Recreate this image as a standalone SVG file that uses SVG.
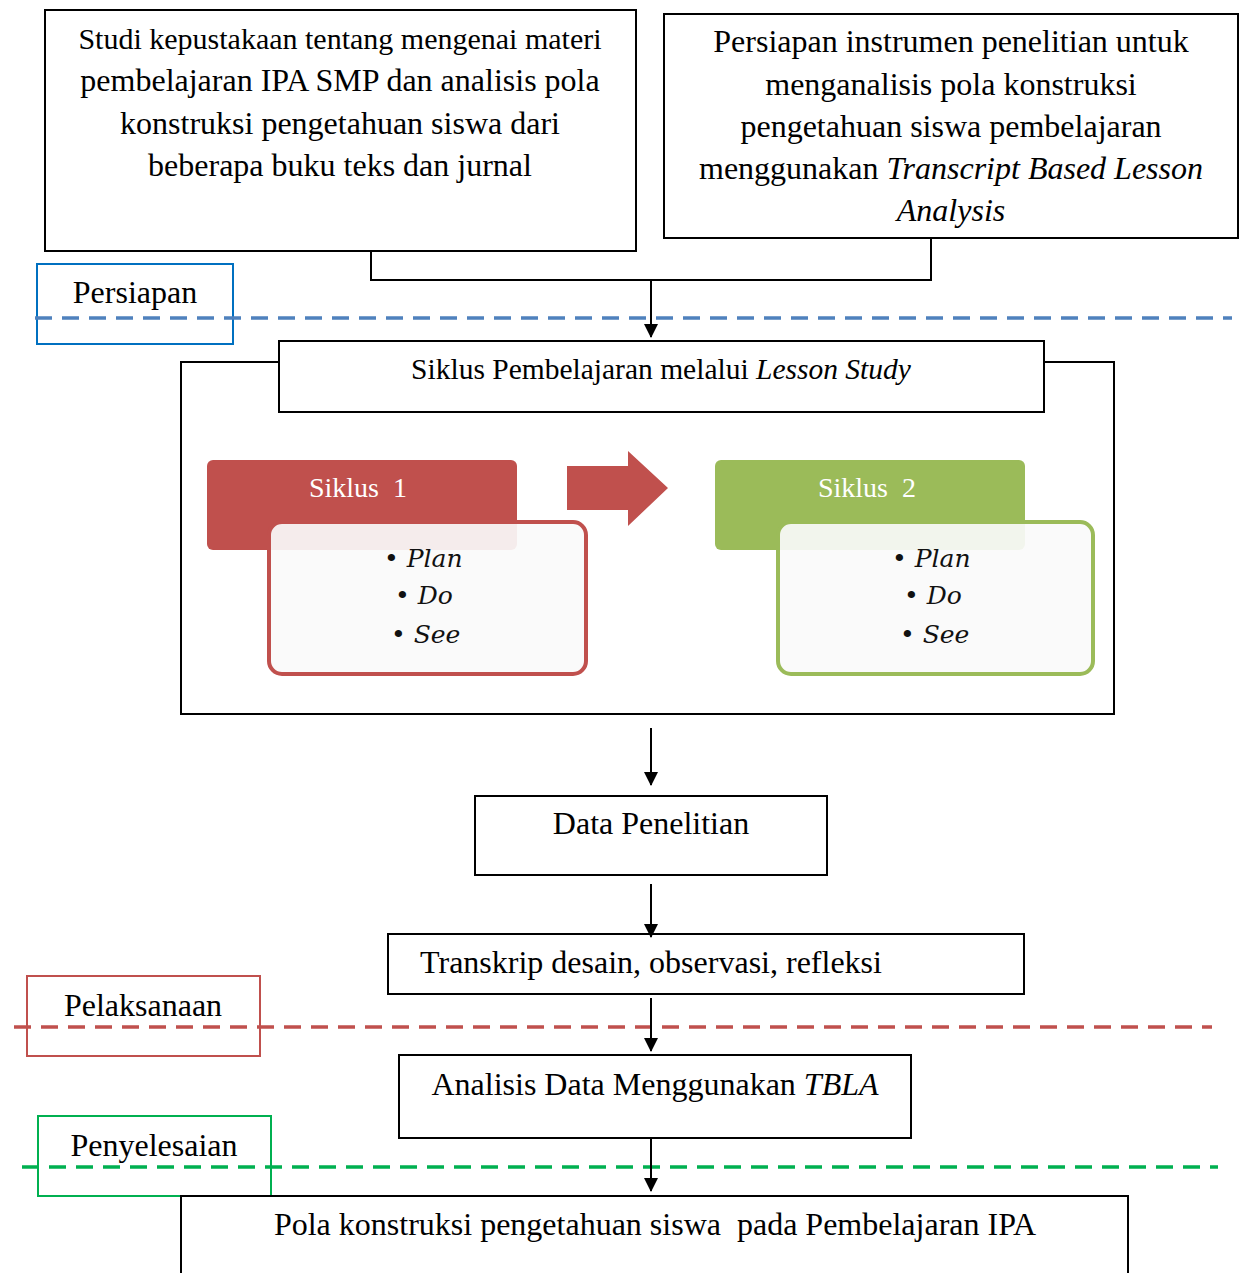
<svg xmlns="http://www.w3.org/2000/svg" width="1240" height="1273" viewBox="0 0 1240 1273">
<style>
.box{fill:#fff;stroke:#000;stroke-width:2}
.t{font-family:"Liberation Serif","Times New Roman",serif;font-size:32px;fill:#000;text-anchor:middle}
.c{fill:none;stroke:#000;stroke-width:2}
.hd{font-family:"Liberation Serif",serif;font-size:28px;fill:#fff;text-anchor:middle}
.bl{font-family:"DejaVu Serif",serif;font-style:italic;font-size:25px;fill:#111}
</style>
<defs>
<marker id="ah" markerWidth="14" markerHeight="14" refX="13" refY="7" orient="auto" markerUnits="userSpaceOnUse">
<path d="M0,0 L14,7 L0,14 Z" fill="#000"/>
</marker>
</defs>
<rect width="1240" height="1273" fill="#fff"/>

<g id="studi">
<rect class="box" x="45" y="10" width="591" height="241"/>
<text class="t" x="340" y="49" style="font-size:30px">Studi kepustakaan tentang mengenai materi</text>
<text class="t" x="340" y="91">pembelajaran IPA SMP dan analisis pola</text>
<text class="t" x="340" y="134">konstruksi pengetahuan siswa dari</text>
<text class="t" x="340" y="176">beberapa buku teks dan jurnal</text>
</g>

<g id="persiapan-instrumen">
<rect class="box" x="664" y="14" width="574" height="224"/>
<text class="t" x="951" y="52">Persiapan instrumen penelitian untuk</text>
<text class="t" x="951" y="95">menganalisis pola konstruksi</text>
<text class="t" x="951" y="137">pengetahuan siswa pembelajaran</text>
<text class="t" x="951" y="179">menggunakan <tspan font-style="italic">Transcript Based Lesson</tspan></text>
<text class="t" x="951" y="221" font-style="italic">Analysis</text>
</g>

<g id="label-persiapan">
<rect x="37" y="264" width="196" height="80" fill="none" stroke="#0070C0" stroke-width="2"/>
<text class="t" x="135" y="303">Persiapan</text>
</g>

<g id="label-pelaksanaan">
<rect x="27" y="976" width="233" height="80" fill="none" stroke="#C0504D" stroke-width="2"/>
<text class="t" x="143" y="1016">Pelaksanaan</text>
</g>

<g id="label-penyelesaian">
<rect x="38" y="1116" width="233" height="80" fill="none" stroke="#00B050" stroke-width="2"/>
<text class="t" x="154" y="1156">Penyelesaian</text>
</g>

<g id="dividers" stroke-width="3.5" stroke-dasharray="17,10" fill="none">
<line x1="35" y1="318" x2="1232" y2="318" stroke="#4F81BD"/>
<line x1="14" y1="1027" x2="1212" y2="1027" stroke="#C0504D"/>
<line x1="22" y1="1167" x2="1218" y2="1167" stroke="#00B050"/>
</g>

<g id="lesson-study">
<rect class="box" x="181" y="362" width="933" height="352"/>
<rect class="box" x="279" y="341" width="765" height="71"/>
<text class="t" x="661" y="379" style="font-size:29.5px">Siklus Pembelajaran melalui <tspan font-style="italic">Lesson Study</tspan></text>
</g>

<g id="siklus1">
<rect x="207" y="460" width="310" height="90" rx="6" fill="#C0504D"/>
<text class="hd" x="358" y="497" xml:space="preserve">Siklus  1</text>
<rect x="269" y="522" width="317" height="152" rx="13" fill="#fafafa" fill-opacity="0.92" stroke="#C0504D" stroke-width="4"/>
<text class="bl" x="384" y="567">• Plan</text>
<text class="bl" x="395" y="604">• Do</text>
<text class="bl" x="391" y="643">• See</text>
</g>

<g id="cycle-arrow">
<path d="M567,466 L628,466 L628,451 L668,488 L628,526 L628,510 L567,510 Z" fill="#C0504D"/>
</g>

<g id="siklus2">
<rect x="715" y="460" width="310" height="90" rx="6" fill="#9BBB59"/>
<text class="hd" x="867" y="497" xml:space="preserve">Siklus  2</text>
<rect x="778" y="522" width="315" height="152" rx="13" fill="#fafafa" fill-opacity="0.92" stroke="#9BBB59" stroke-width="4"/>
<text class="bl" x="892" y="567">• Plan</text>
<text class="bl" x="904" y="604">• Do</text>
<text class="bl" x="900" y="643">• See</text>
</g>

<g id="data-penelitian">
<rect class="box" x="475" y="796" width="352" height="79"/>
<text class="t" x="651" y="834">Data Penelitian</text>
</g>

<g id="transkrip">
<rect class="box" x="388" y="934" width="636" height="60"/>
<text class="t" x="651" y="973">Transkrip desain, observasi, refleksi</text>
</g>

<g id="analisis">
<rect class="box" x="399" y="1055" width="512" height="83"/>
<text class="t" x="655" y="1095">Analisis Data Menggunakan <tspan font-style="italic">TBLA</tspan></text>
</g>

<g id="pola">
<rect class="box" x="181" y="1196" width="947" height="90"/>
<text class="t" x="655" y="1235" xml:space="preserve">Pola konstruksi pengetahuan siswa  pada Pembelajaran IPA</text>
</g>

<g id="connectors">
<polyline class="c" points="371,251 371,280 931,280 931,238"/>
<line class="c" x1="651" y1="280" x2="651" y2="337" marker-end="url(#ah)"/>
<line class="c" x1="651" y1="728" x2="651" y2="785" marker-end="url(#ah)"/>
<line class="c" x1="651" y1="884" x2="651" y2="937" marker-end="url(#ah)"/>
<line class="c" x1="651" y1="998" x2="651" y2="1051" marker-end="url(#ah)"/>
<line class="c" x1="651" y1="1138" x2="651" y2="1191" marker-end="url(#ah)"/>
</g>
</svg>
